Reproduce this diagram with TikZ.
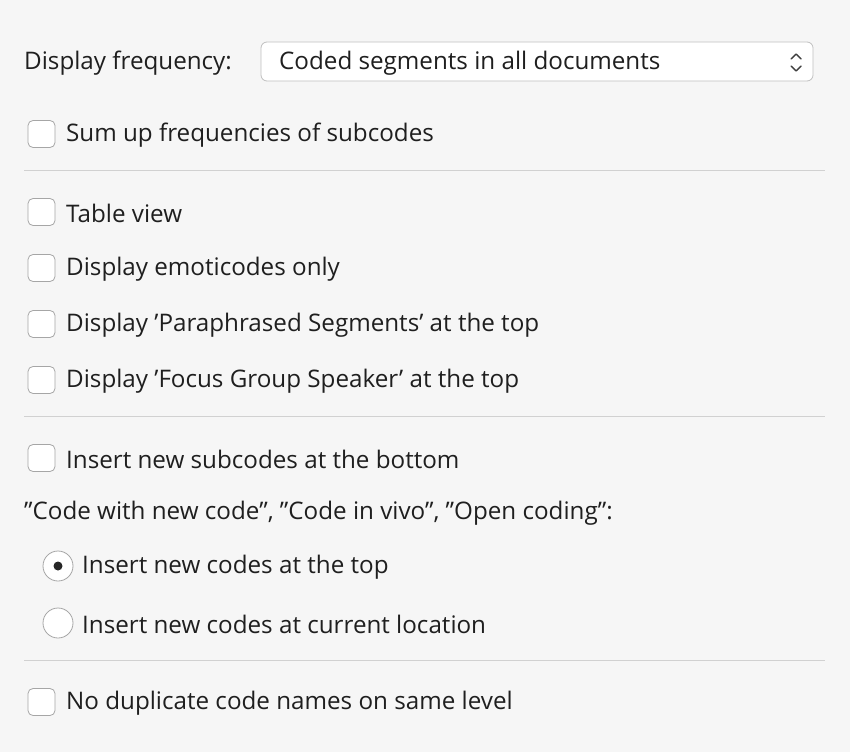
\documentclass[tikz,border=0pt]{standalone}
\usepackage{fontspec}
\defaultfontfeatures{}
\setmainfont{Open Sans}
\newcommand{\dq}{\symbol{"22}}
\newcommand{\sq}{\symbol{"27}}
\begin{document}
\begin{tikzpicture}[x=1pt,y=-1pt,
  lbl/.style={anchor=west,inner sep=0pt,font=\fontsize{24.2}{28}\selectfont,text=black!88},
  cbox/.style={draw=black!35,fill=white,rounded corners=5pt,line width=0.8pt},
  sep/.style={draw=black!18,line width=0.8pt}]
\fill[black!3.5] (0,0) rectangle (850,752);
\useasboundingbox (0,0) rectangle (850,752);
\node[lbl] (df) at (24,63) {Display frequency:};
\draw[draw=black!25,fill=white,rounded corners=6pt,line width=0.8pt] (261,42) rectangle (813,81);
\node[lbl] (dd) at (279,63) {Coded segments in all documents};
\draw[line width=1.4pt,black!75,line cap=round,line join=round] (791,59)--(796,54)--(801,59) (791,66)--(796,71)--(801,66);
\foreach \y/\t/\n in {134/Sum up frequencies of subcodes/c1,212/Table view/c2,268/Display emoticodes only/c3,324/Display \sq Paraphrased Segments\sq\ at the top/c4,380/Display \sq Focus Group Speaker\sq\ at the top/c5,458/Insert new subcodes at the bottom/c6,702/No duplicate code names on same level/c7}{
  \draw[cbox] (28,\y-13.5) rectangle (55,\y+13.5);
  \node[lbl] (\n) at (66,\y+1) {\t};
}
\foreach \y in {170,416,660}{\draw[sep] (24,\y)--(825,\y);}
\node[lbl] (cw) at (24,513) {\dq Code with new code\dq, \dq Code in vivo\dq, \dq Open coding\dq:};
\draw[cbox,rounded corners=0pt] (58,566) circle (15);
\fill[black!85] (58,566) circle (4.5);
\node[lbl] (r1) at (82,567) {Insert new codes at the top};
\draw[cbox,rounded corners=0pt] (58,623) circle (15);
\node[lbl] (r2) at (82,624) {Insert new codes at current location};
\end{tikzpicture}
\end{document}
